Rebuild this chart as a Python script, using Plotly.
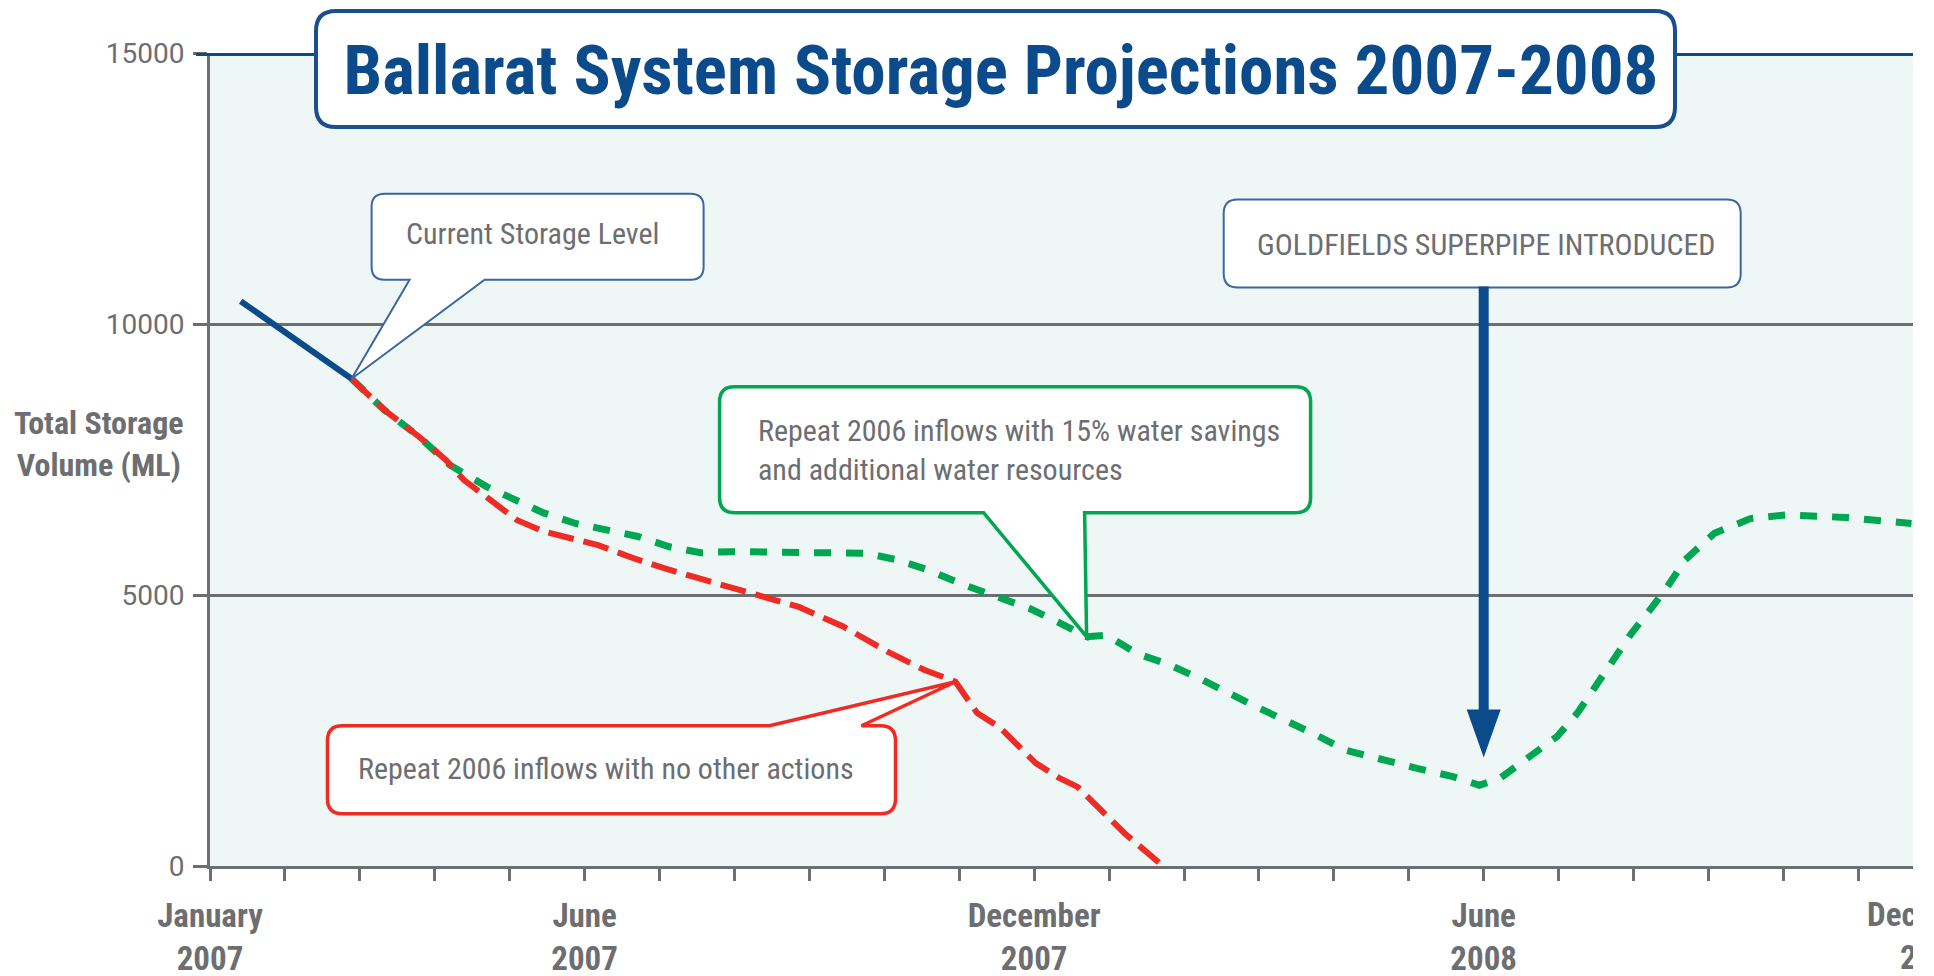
import plotly.graph_objects as go

# ---------------- data ----------------
# x values: months elapsed since 1 January 2007 (the chart uses evenly spaced months)
CURRENT_MONTH = [0.41, 0.98, 1.89]
CURRENT_ML = [10420, 9880, 8990]

NO_ACTION_MONTH = [1.89, 2.32, 2.79, 3.15, 3.39, 3.68, 4.10, 4.46, 4.82, 5.18, 5.65, 6.07, 6.67, 7.26,
                   7.86, 8.45, 9.05, 9.53, 9.95, 10.24, 10.54, 11.02, 11.34, 11.58, 11.90, 12.21, 12.72]
NO_ACTION_ML = [8990, 8420, 7920, 7490, 7120, 6810, 6380, 6170, 6050, 5920, 5680, 5490, 5250, 5030,
                4780, 4420, 3950, 3620, 3400, 2820, 2560, 1900, 1620, 1460, 1030, 600, 0]

SAVINGS_MONTH = [1.89, 2.32, 2.79, 3.20, 3.69, 4.10, 4.46, 4.88, 5.30, 5.71, 6.13, 6.55, 6.96, 7.56,
                 8.27, 8.75, 9.17, 9.59, 10.00, 10.42, 10.94, 11.26, 11.70, 11.97, 12.37, 12.81, 13.25,
                 13.96, 14.36, 14.76, 15.15, 15.63, 16.11, 16.59, 16.94, 17.22, 17.62, 17.98, 18.25,
                 18.49, 18.73, 18.97, 19.25, 19.45, 19.69, 20.08, 20.56, 21.04, 21.83, 22.71]
SAVINGS_ML = [8990, 8420, 7920, 7400, 7000, 6750, 6510, 6320, 6200, 6080, 5890, 5780, 5800, 5800,
              5800, 5770, 5650, 5460, 5220, 5000, 4750, 4540, 4230, 4260, 3920, 3710, 3430, 2940,
              2690, 2420, 2140, 1960, 1800, 1650, 1490, 1620, 2020, 2390, 2820, 3310, 3800, 4290,
              4780, 5150, 5650, 6140, 6410, 6480, 6430, 6320]

RED_CALLOUT_IDX = 18
GREEN_CALLOUT_IDX = 22
SUPERPIPE_MONTH = 17          # June 2008
ARROW_TIP_ML = 2000

X_RANGE = [0, 22.73]
MONTH_TICKS = list(range(0, 23))
MAJOR_LABELS = {0: "January<br>2007", 5: "June<br>2007", 11: "December<br>2007", 17: "June<br>2008"}
OFFSCALE_LABEL = (23, "December<br>2008")
Y_TICKS = [0, 5000, 10000, 15000]

TITLE = "Ballarat System Storage Projections 2007-2008"
Y_TITLE = "Total Storage<br>Volume (ML)"

# ---------------- style ----------------
PAGE_OFFSET = 8                      # default body margin of the html page
W, H = 1913 - PAGE_OFFSET, 976 - PAGE_OFFSET
ML_, MR_, MT_, MB_ = 202, 0, 45, 110
PLOT_W = W - ML_ - MR_
GRAY = "#6d6e71"
NAVY = "#0b4a8b"
BOXBLUE = "#3b66a3"
RED = "#ee2b24"
GREEN = "#00a651"
BG = "#eef7f6"
FONT = "Liberation Sans Narrow, Arial Narrow, Roboto Condensed, DejaVu Sans Condensed, Roboto, sans-serif"
NUM_FONT = "Roboto, Liberation Sans, sans-serif"

tick_text = [MAJOR_LABELS.get(m, "") for m in MONTH_TICKS]


def bubble(left, right, top, bottom, r, ptr=None):
    """speech-bubble path in pixel offsets (y up), ptr=(side, a, b, tx, ty)"""
    p = [f"M{left + r},{top}"]
    if ptr and ptr[0] == "top":
        _, a, b, tx, ty = ptr
        p += [f"L{a},{top}", f"L{tx},{ty}", f"L{b},{top}"]
    p += [f"L{right - r},{top}", f"Q{right},{top} {right},{top - r}",
          f"L{right},{bottom + r}", f"Q{right},{bottom} {right - r},{bottom}"]
    if ptr and ptr[0] == "bottom":
        _, a, b, tx, ty = ptr
        p += [f"L{b},{bottom}", f"L{tx},{ty}", f"L{a},{bottom}"]
    p += [f"L{left + r},{bottom}", f"Q{left},{bottom} {left},{bottom + r}",
          f"L{left},{top - r}", f"Q{left},{top} {left + r},{top}", "Z"]
    return " ".join(p)


def pix_shape(path, xref, yref, xa, ya, line_color, line_width, fill="white"):
    return dict(type="path", path=path, xref=xref, yref=yref, xsizemode="pixel", ysizemode="pixel",
                xanchor=xa, yanchor=ya, fillcolor=fill, line=dict(color=line_color, width=line_width),
                layer="above")


fig = go.Figure()
fig.add_trace(go.Scatter(x=SAVINGS_MONTH, y=SAVINGS_ML, mode="lines",
                         line=dict(color=GREEN, width=7, dash="17px,15px"), hoverinfo="skip"))
fig.add_trace(go.Scatter(x=NO_ACTION_MONTH, y=NO_ACTION_ML, mode="lines",
                         line=dict(color=RED, width=6, dash="26px,10px"), hoverinfo="skip"))
fig.add_trace(go.Scatter(x=CURRENT_MONTH, y=CURRENT_ML, mode="lines",
                         line=dict(color=NAVY, width=6), hoverinfo="skip"))

shapes = []
# blue top rule at 15000
shapes.append(dict(type="line", xref="paper", yref="y", x0=-14 / PLOT_W, x1=1, y0=Y_TICKS[-1], y1=Y_TICKS[-1],
                   line=dict(color=NAVY, width=6), layer="above"))
# title box
shapes.append(pix_shape(bubble(106, 1465, 42, -74, 20), "paper", "paper", 0, 1, "#1a4e8c", 4))
# current storage bubble
cx, cy = CURRENT_MONTH[-1], CURRENT_ML[-1]
shapes.append(pix_shape(bubble(20, 352, 185, 99, 13, ("bottom", 58, 133, 0, 0)), "x", "y", cx, cy, BOXBLUE, 2))
# red bubble
rx, ry = NO_ACTION_MONTH[RED_CALLOUT_IDX], NO_ACTION_ML[RED_CALLOUT_IDX]
shapes.append(pix_shape(bubble(-628, -60, -44, -132, 15, ("top", -186, -94, 0, 0)), "x", "y", rx, ry, RED, 3.5))
# green bubble
gx, gy = SAVINGS_MONTH[GREEN_CALLOUT_IDX], SAVINGS_ML[GREEN_CALLOUT_IDX]
shapes.append(pix_shape(bubble(-367, 224, 250, 124, 15, ("bottom", -103, -2, 0, 0)), "x", "y", gx, gy, GREEN, 3.5))
# superpipe box + arrow
shapes.append(pix_shape(bubble(-260, 257, 558, 470, 14), "x", "y", SUPERPIPE_MONTH, ARROW_TIP_ML, BOXBLUE, 2))
shapes.append(pix_shape("M-5,471 L5,471 L5,48 L17,48 L0,0 L-17,48 L-5,48 Z", "x", "y",
                        SUPERPIPE_MONTH, ARROW_TIP_ML, NAVY, 0, fill=NAVY))

ann_font = dict(family=FONT, size=30, color=GRAY)
annotations = [
    dict(text="Current Storage Level", x=cx, y=cy, xref="x", yref="y", xshift=181, yshift=145,
         showarrow=False, xanchor="center", yanchor="middle", font=ann_font),
    dict(text="Repeat 2006 inflows with no other actions", x=rx, y=ry, xref="x", yref="y",
         xshift=-349, yshift=-87, showarrow=False, xanchor="center", yanchor="middle", font=ann_font),
    dict(text="Repeat 2006 inflows with 15% water savings<br>and additional water resources", x=gx, y=gy,
         xref="x", yref="y", xshift=-331, yshift=187, showarrow=False, xanchor="left", yanchor="middle",
         align="left", font=ann_font),
    dict(text="GOLDFIELDS SUPERPIPE INTRODUCED", x=SUPERPIPE_MONTH, y=ARROW_TIP_ML, xref="x", yref="y",
         xshift=2, yshift=513, showarrow=False, xanchor="center", yanchor="middle",
         font=dict(family=FONT, size=30, color=GRAY)),
    dict(text=Y_TITLE, x=0, y=0.5185, xref="paper", yref="paper", xshift=-111, showarrow=False,
         xanchor="center", yanchor="middle", align="center",
         font=dict(family=FONT, size=32, color=GRAY, weight="bold")),
]
# off-scale december 2008 label (just past the right end of the axis, cut by the figure edge)
off_x = (OFFSCALE_LABEL[0] - X_RANGE[0]) / (X_RANGE[1] - X_RANGE[0])
annotations.append(dict(text=OFFSCALE_LABEL[1], x=off_x, y=0, xref="paper", yref="paper", yshift=-27,
                        showarrow=False, xanchor="center", yanchor="top", align="center",
                        font=dict(family=FONT, size=33, color=GRAY, weight="bold")))

fig.update_layout(
    width=W, height=H,
    margin=dict(l=ML_, r=MR_, t=MT_, b=MB_, pad=0, autoexpand=False),
    paper_bgcolor="white", plot_bgcolor=BG, showlegend=False,
    title=dict(text=TITLE, x=(1001 - 210) / PLOT_W, xref="paper", xanchor="center",
               y=1 - (70 - PAGE_OFFSET) / H, yref="container", yanchor="middle",
               font=dict(family=FONT, size=69, color=NAVY, weight="bold")),
    xaxis=dict(range=X_RANGE, tickmode="array", tickvals=MONTH_TICKS, ticktext=tick_text,
               ticks="outside", ticklen=12, tickwidth=3, tickcolor=GRAY, showline=True, linecolor=GRAY,
               linewidth=3, showgrid=False, zeroline=False, ticklabelstandoff=6, automargin=False,
               tickfont=dict(family=FONT, size=33, color=GRAY, weight="bold")),
    yaxis=dict(range=[0, 15000], tickmode="array", tickvals=Y_TICKS, ticktext=[str(v) for v in Y_TICKS],
               ticks="outside", ticklen=14, tickwidth=3, tickcolor=GRAY, showline=True, linecolor=GRAY,
               linewidth=3, showgrid=True, gridcolor=GRAY, gridwidth=3, zeroline=False, ticklabelstandoff=3,
               automargin=False, tickfont=dict(family=NUM_FONT, size=28, color=GRAY)),
    shapes=shapes, annotations=annotations,
)

fig.write_html("out.html")
